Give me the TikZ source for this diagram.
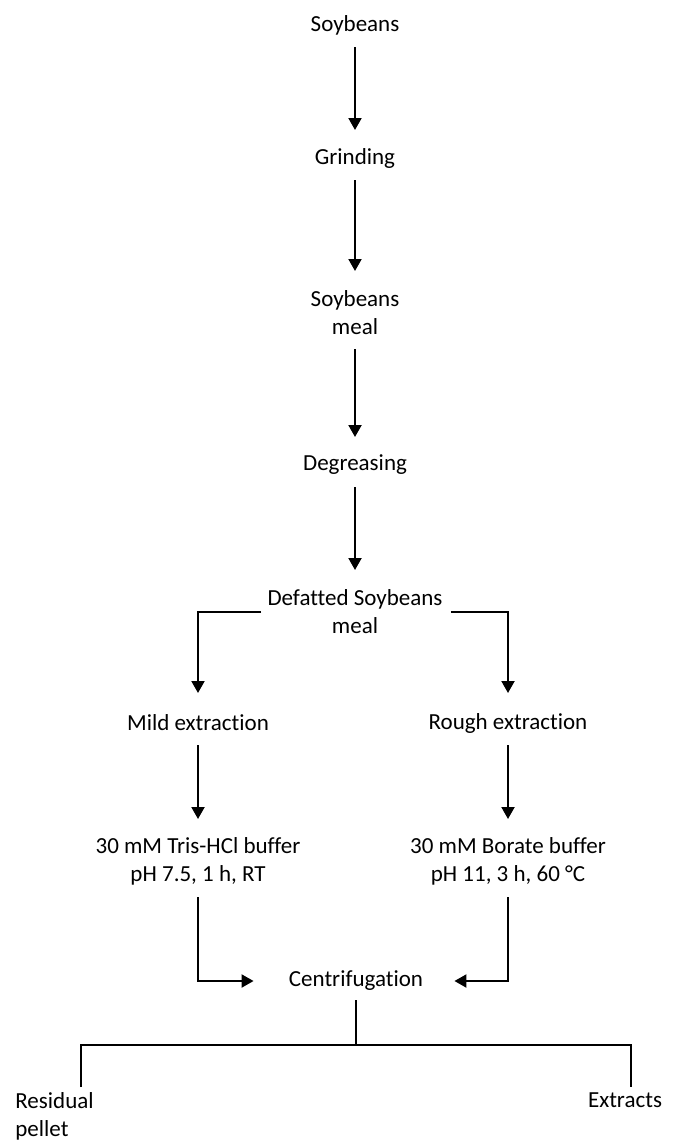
\documentclass[tikz,border=0pt]{standalone}
\usepackage{fontspec}
\setmainfont{Carlito}[Ligatures=NoCommon]
\usetikzlibrary{arrows.meta,calc,positioning}

\begin{document}
\begin{tikzpicture}[x=0.5pt,y=-0.5pt]
	\tikzstyle{every node} = [align=center, inner sep=0pt, font=\fontsize{11.5}{14}\selectfont]
	\tikzstyle{flow} = [line width=1pt, -{Triangle[width=6.5pt,length=6pt]}]
	\tikzstyle{link} = [line width=1pt]
\useasboundingbox (0,0) rectangle (678,1146);
\node (soy) at (355,25) {Soybeans};
\node (grind) at (355,158) {Grinding};
\node (meal) at (355,313) {Soybeans\\meal};
\node (degr) at (355,465) {Degreasing};
\node (defat) at (355,612) {Defatted Soybeans\\meal};
\node (mild) at (198,723) {Mild extraction};
\node (rough) at (508,723) {Rough extraction};
\node (tris) at (198,861) {30 mM Tris-HCl buffer\\pH 7.5, 1 h, RT};
\node (borate) at (508,861) {30 mM Borate buffer\\pH 11, 3 h, 60 °C};
\node (centr) at (356,981) {Centrifugation};
\node[anchor=west, align=left] (resid) at (15,1116) {Residual\\pellet};
\node (extr) at (625,1100) {Extracts};
\coordinate (barL) at (81,1045);
\coordinate (barR) at (631,1045);
\coordinate (pl) at (81,1087);
\coordinate (ex) at (631,1087);
	% main line
	\draw[flow] ($(soy)+(0,22)$) -- ($(grind)+(0,-28)$);
	\draw[flow] ($(grind)+(0,22)$) -- ($(meal)+(0,-42)$);
	\draw[flow] ($(meal)+(0,36)$) -- ($(degr)+(0,-28)$);
	\draw[flow] ($(degr)+(0,22)$) -- ($(defat)+(0,-42)$);
	% two extractions
	\draw[flow] ([xshift=-3pt]defat.west) -| ($(mild)+(0,-30)$);
	\draw[flow] ([xshift=4pt]defat.east) -| ($(rough)+(0,-30)$);
	\draw[flow] ($(mild)+(0,22)$) -- ($(tris)+(0,-42)$);
	\draw[flow] ($(rough)+(0,22)$) -- ($(borate)+(0,-42)$);
	\draw[flow] ($(tris)+(0,36)$) |- ($(centr.west)+(-35,0)$);
	\draw[flow] ($(borate)+(0,36)$) |- ($(centr.east)+(31,0)$);
	% split
	\draw[link] ($(centr)+(0,19)$) -- (barL -| centr);
	\draw[link] (pl) -- (barL) -- (barR) -- (ex);
\end{tikzpicture}
\end{document}
